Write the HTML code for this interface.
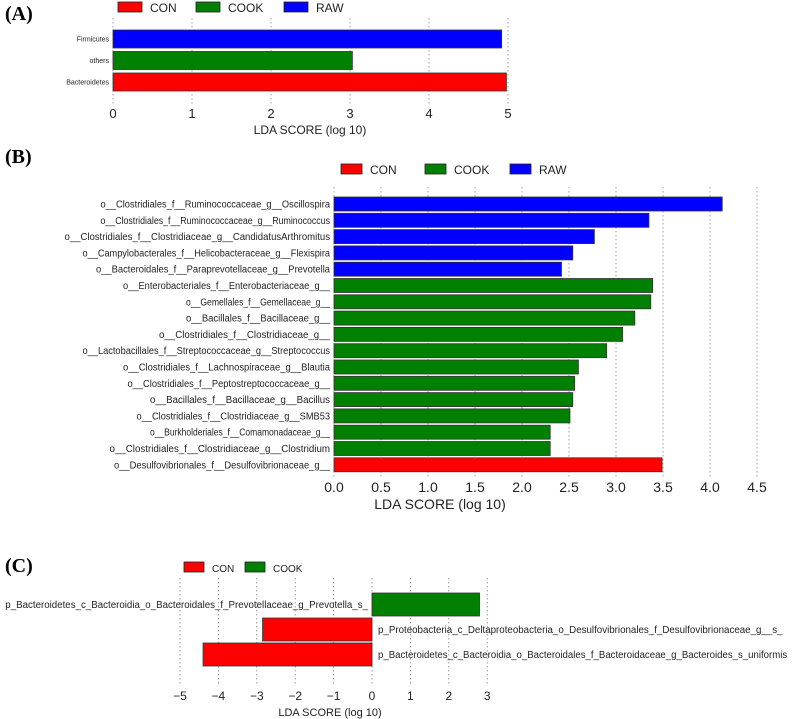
<!DOCTYPE html>
<html><head><meta charset="utf-8"><style>
body{margin:0;background:#fff}
svg{display:block;font-family:"Liberation Sans",sans-serif}
</style></head><body>
<svg id="s" width="793" height="719"></svg>
<script>
const NS="http://www.w3.org/2000/svg";
const svg=document.getElementById('s');
const colors={CON:"#ff0000",COOK:"#008000",RAW:"#0000ff"};
// Panel A data
const aCats=["Firmicutes","others","Bacteroidetes"];
const aVals=[4.92,3.03,4.98];
const aGroups=["RAW","COOK","CON"];
const aTicks=[0,1,2,3,4,5];
// Panel B data
const bCats=["o__Clostridiales_f__Ruminococcaceae_g__Oscillospira","o__Clostridiales_f__Ruminococcaceae_g__Ruminococcus","o__Clostridiales_f__Clostridiaceae_g__CandidatusArthromitus","o__Campylobacterales_f__Helicobacteraceae_g__Flexispira","o__Bacteroidales_f__Paraprevotellaceae_g__Prevotella","o__Enterobacteriales_f__Enterobacteriaceae_g__","o__Gemellales_f__Gemellaceae_g__","o__Bacillales_f__Bacillaceae_g__","o__Clostridiales_f__Clostridiaceae_g__","o__Lactobacillales_f__Streptococcaceae_g__Streptococcus","o__Clostridiales_f__Lachnospiraceae_g__Blautia","o__Clostridiales_f__Peptostreptococcaceae_g__","o__Bacillales_f__Bacillaceae_g__Bacillus","o__Clostridiales_f__Clostridiaceae_g__SMB53","o__Burkholderiales_f__Comamonadaceae_g__","o__Clostridiales_f__Clostridiaceae_g__Clostridium","o__Desulfovibrionales_f__Desulfovibrionaceae_g__"];
const bVals=[4.13,3.35,2.77,2.54,2.42,3.39,3.37,3.20,3.07,2.90,2.60,2.56,2.54,2.51,2.30,2.30,3.49];
const bGroups=["RAW","RAW","RAW","RAW","RAW","COOK","COOK","COOK","COOK","COOK","COOK","COOK","COOK","COOK","COOK","COOK","CON"];
const bTicks=["0.0","0.5","1.0","1.5","2.0","2.5","3.0","3.5","4.0","4.5"];
// Panel C data
const cCats=["p_Bacteroidetes_c_Bacteroidia_o_Bacteroidales_f_Prevotellaceae_g_Prevotella_s_","p_Proteobacteria_c_Deltaproteobacteria_o_Desulfovibrionales_f_Desulfovibrionaceae_g__s_","p_Bacteroidetes_c_Bacteroidia_o_Bacteroidales_f_Bacteroidaceae_g_Bacteroides_s_uniformis"];
const cVals=[2.8,-2.85,-4.4];
const cGroups=["COOK","CON","CON"];
const cTicks=["−5","−4","−3","−2","−1","0","1","2","3"];

function el(tag,attrs,parent){const e=document.createElementNS(NS,tag);for(const k in attrs)e.setAttribute(k,attrs[k]);(parent||svg).appendChild(e);return e;}
function txt(s,attrs){const t=el('text',attrs);t.textContent=s;return t;}

function label(s,y){const t=txt(s,{x:5,y:y,"font-family":"Liberation Serif,serif","font-weight":"bold","font-size":20});

}
label("(A)",20);label("(B)",163);label("(C)",572);

function legend(items,y,xs,bw,fs,prefix){
 items.forEach((g,i)=>{
  const r=el('rect',{x:xs[i],y:y-5,width:bw,height:10,fill:colors[g],stroke:"#222","stroke-width":0.8});
  
  
  const t=txt(g,{x:xs[i]+bw+8,y:y+5,"font-size":fs,fill:"#222"});
  
  
 });
}

function panel(cfg){
 const {cats,vals,groups,ticks,tickVals,x0,unit,yTop,rowH,barH,gridTop,gridBot,tickY,labY,xlabX,labFS,tickFS,prefix}=cfg;
 const xs=v=>x0+v*unit;
 tickVals.forEach((v,i)=>{
  const l=el('line',{x1:xs(v),x2:xs(v),y1:gridTop,y2:gridBot,stroke:"#777","stroke-width":0.7,"stroke-dasharray":"1.5,2.5"});
  
  
  const t=txt(ticks[i],{x:xs(v),y:tickY,"text-anchor":"middle","font-size":tickFS,fill:"#222"});
  
  
 });
 cats.forEach((c,i)=>{
  const v=vals[i];const y=yTop+i*rowH;
  const r=el('rect',{x:Math.min(xs(0),xs(v)),y:y,width:Math.abs(xs(v)-xs(0)),height:barH,fill:colors[groups[i]],stroke:"#333","stroke-width":0.8});
  
  
  let anchor="end",lx=x0-4;
  if(cfg.sideLabels){ if(v<0){anchor="start";lx=x0+6;} else {anchor="end";lx=x0-4;} }
  const attrs={x:lx,y:y+barH/2+labFS*0.35,"text-anchor":anchor,"font-size":labFS,fill:"#222"};
  if(cfg.charW){attrs.textLength=c.length*cfg.charW;attrs.lengthAdjust="spacingAndGlyphs";}
  const t=txt(c,attrs);
  
  
 });
 const xl=txt("LDA SCORE (log 10)",{x:xlabX,y:labY,"text-anchor":"middle","font-size":cfg.xlFS,fill:"#222"});
 
 
}

legend(["CON","COOK","RAW"],7,[118,196,284],24,12,"a");
panel({cats:aCats,vals:aVals,groups:aGroups,ticks:aTicks.map(String),tickVals:aTicks,x0:113,unit:79,yTop:30,rowH:21.5,barH:18,gridTop:18,gridBot:104,tickY:118,labY:134,xlabX:310,labFS:7,tickFS:13,xlFS:12,prefix:"a"});

legend(["CON","COOK","RAW"],169,[341,425,510],21,12,"b");
panel({cats:bCats,vals:bVals,groups:bGroups,ticks:bTicks,tickVals:bTicks.map(Number),x0:334,unit:94,yTop:197,rowH:16.3,barH:14,gridTop:187,gridBot:478,tickY:492,labY:509,xlabX:440,labFS:10,tickFS:14,xlFS:14,charW:4.5,prefix:"b"});

legend(["CON","COOK"],567,[184,245],20,10,"c");
panel({cats:cCats,vals:cVals,groups:cGroups,ticks:cTicks,tickVals:[-5,-4,-3,-2,-1,0,1,2,3],x0:372,unit:38.4,yTop:593,rowH:25,barH:23,gridTop:578,gridBot:686,tickY:700,labY:716,xlabX:330,labFS:10,tickFS:12,xlFS:11,charW:4.65,sideLabels:true,prefix:"c"});
</script>
</body></html>
